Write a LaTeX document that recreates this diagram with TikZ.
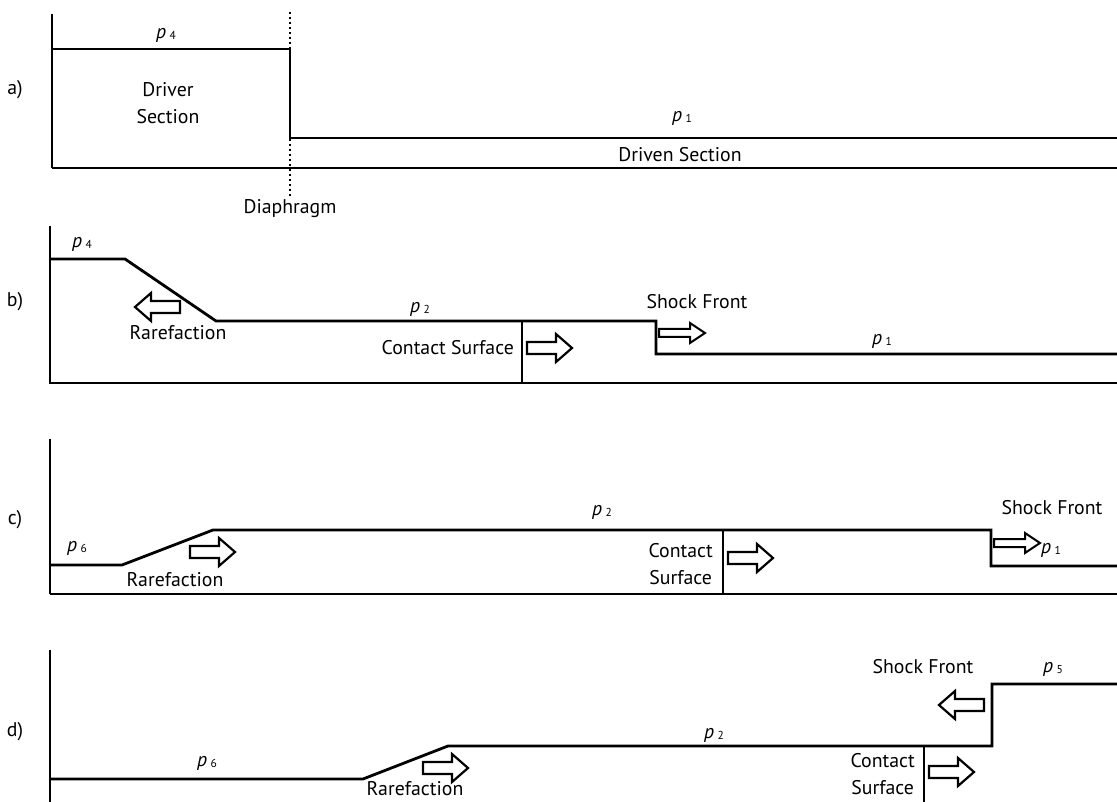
\documentclass[tikz,border=0pt]{standalone}
\usepackage{fontspec}
\setmainfont{PT Sans}
\usetikzlibrary{positioning}

\newcommand{\pres}[1]{\textit{p}\,\raisebox{-0.15ex}{\fontsize{11.5}{11.5}\selectfont #1}}

\tikzset{
	pics/fatarrow/.style={code={
		\draw[line width=2.2pt, line join=miter, fill=white]
		(0,-6) -- (29,-6) -- (29,-14) -- (45,0) -- (29,14) -- (29,6) -- (0,6) -- cycle;
	}},
	pics/slimarrow/.style={code={
		\draw[line width=2pt, line join=miter, fill=white]
		(0,-4) -- (31,-4) -- (31,-10) -- (46,0) -- (31,10) -- (31,4) -- (0,4) -- cycle;
	}}
}

\begin{document}
\begin{tikzpicture}[
	x=1pt, y=-1pt,
	wave/.style={line width=2.8pt, line join=miter},
	wall/.style={line width=1.5pt},
	txt/.style={inner sep=0pt, font=\fontsize{19.8}{27.5}\selectfont, align=center}
	]
	\useasboundingbox (0,0) rectangle (1117,802);
	
	% a) before the diaphragm bursts
	\node[txt] (la) at (15,90) {a)};
	\draw[wave] (52,14) -- (52,168);
	\draw[line width=2pt] (52,168) -- (1117,168);
	\draw[wave] (52,49) -- (290,49) -- (290,138) -- (1117,138);
	\draw[line width=1.6pt, dash pattern=on 1.6pt off 3.4pt] (290,12) -- (290,49);
	\draw[line width=1.6pt, dash pattern=on 1.6pt off 3.4pt] (290,139) -- (290,196);
	\node[txt] (pa4) at (166,35) {\pres{4}};
	\node[txt] (driver) at (168,103) {Driver\\Section};
	\node[txt] (pa1) at (682,118) {\pres{1}};
	\node[txt] (driven) at (680,155) {Driven Section};
	\node[txt] (diaph) at (290,209) {Diaphragm};
	
	% b) shock running into the driven section
	\node[txt] (lb) at (15,302) {b)};
	\draw[wave] (50,226) -- (50,383) -- (1117,383);
	\draw[wave] (50,259) -- (125,259) -- (216,321) -- (656,321) -- (656,354) -- (1117,354);
	\draw[wall] (522,321) -- (522,383);
	\node[txt] (pb4) at (82,244) {\pres{4}};
	\node[txt] (pb2) at (420,309) {\pres{2}};
	\node[txt] (pb1) at (882,341) {\pres{1}};
	\node[txt] (rarb) at (178,333) {Rarefaction};
	\node[txt, anchor=east] (conb) at (514,348) {Contact Surface};
	\node[txt] (shockb) at (697,302) {Shock Front};
	\pic[xscale=-1] at (180,307) {fatarrow};
	\pic at (527,348) {fatarrow};
	\pic at (659,333) {slimarrow};
	
	% c) expansion reflected from the end wall
	\node[txt] (lc) at (15,520) {c)};
	\draw[wave] (50,439) -- (50,594);
	\draw[wall] (50,594) -- (1117,594);
	\draw[wave] (50,565) -- (122,565) -- (213,530) -- (991,530) -- (991,566) -- (1117,566);
	\draw[wall] (723,530) -- (723,594);
	\node[txt] (pc6) at (77,548) {\pres{6}};
	\node[txt] (pc2) at (602,512) {\pres{2}};
	\node[txt] (rarc) at (175,580) {Rarefaction};
	\node[txt, anchor=east] (conc) at (713,564) {Contact\\Surface};
	\node[txt] (shockc) at (1052,508) {Shock Front};
	\node[txt, anchor=west] (pc1) at (1041,550) {\pres{1}};
	\pic at (190,552) {fatarrow};
	\pic at (728,558) {fatarrow};
	\pic at (994,543) {slimarrow};
	
	% d) shock reflected from the end wall
	\node[txt] (ld) at (15,732) {d)};
	\draw[wave] (50,650) -- (50,802);
	\draw[wave] (50,779) -- (363,779) -- (448,746) -- (992,746) -- (992,684) -- (1117,684);
	\draw[wall] (924,746) -- (924,802);
	\node[txt] (pd6) at (207,763) {\pres{6}};
	\node[txt] (pd2) at (714,735) {\pres{2}};
	\node[txt] (pd5) at (1053,669) {\pres{5}};
	\node[txt] (rard) at (415,789) {Rarefaction};
	\node[txt, anchor=east] (cond) at (915,774) {Contact\\Surface};
	\node[txt] (shockd) at (923,667) {Shock Front};
	\pic at (423,768) {fatarrow};
	\pic at (929,772) {fatarrow};
	\pic[xscale=-1] at (984,705) {fatarrow};
	
\end{tikzpicture}
\end{document}
